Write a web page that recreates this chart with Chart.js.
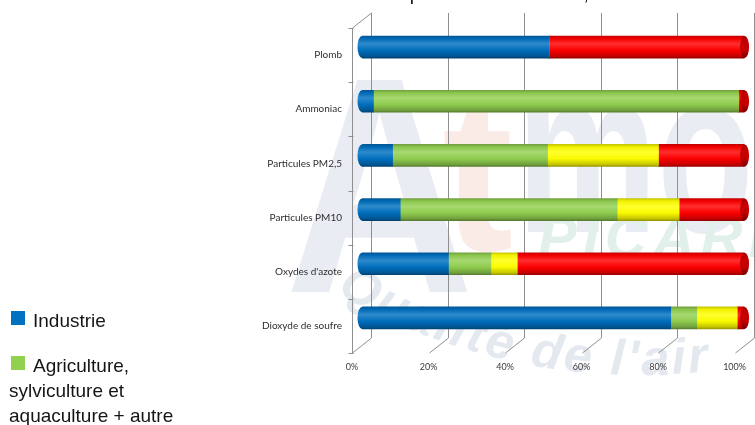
<!DOCTYPE html>
<html lang="fr">
<head>
<meta charset="utf-8">
<title>Émissions par secteur d'activité</title>
<script src="https://cdn.jsdelivr.net/npm/chart.js@4.4.1/dist/chart.umd.min.js"></script>
<style>
  html, body { margin: 0; padding: 0; background: #fff; overflow: hidden; width: 755px; height: 425px; }
  #wrap { position: relative; width: 755px; height: 425px; overflow: hidden; }
  #chart { position: absolute; left: 0; top: 0; }
  #title { position: absolute; left: 318px; top: -19px; white-space: nowrap;
           font-family: "Liberation Sans", Arial, sans-serif; font-size: 19px; line-height: 25px; color: #111; }
  #legend { position: absolute; left: 9px; top: 308px; width: 200px;
            font-family: "Liberation Sans", Arial, sans-serif; font-size: 19px; line-height: 25px; color: #151515; }
  #legend .item { margin-bottom: 20px; }
  #legend .sw { display: inline-block; width: 14px; height: 14px; margin-left: 2px; margin-right: 8px; vertical-align: 2px; }
</style>
</head>
<body>
<div id="wrap">
  <canvas id="chart" width="755" height="425"></canvas>
  <div id="title">Émissions par secteur d'activité, Picardie</div>
  <div id="legend"></div>
</div>
<script>
// Pollutants, top to bottom
const POLLUTANTS = ['Plomb', 'Ammoniac', 'Particules PM2,5', 'Particules PM10', "Oxydes d'azote", 'Dioxyde de soufre'];

// Emitting sectors (stack order, left to right)
const SECTORS = ['Industrie', 'Agriculture, sylviculture et aquaculture + autre', 'Résidentiel / tertiaire', 'Transport routier'];

// Share of each pollutant's emissions, in %
const INDUSTRIE    = [49.0,  3.0,  8.0, 10.0, 22.6, 80.7];
const AGRICULTURE  = [ 0.0, 95.4, 40.5, 56.7, 11.1,  6.8];
const RESIDENTIEL  = [ 0.0,  0.0, 29.0, 16.2,  6.9, 10.6];
const TRANSPORT    = [51.0,  1.6, 22.5, 17.1, 59.4,  1.9];

// Percentage axis
const X_TICKS = [0, 20, 40, 60, 80, 100];

const COLORS = ['#0070C0', '#92D050', '#FFFF00', '#FF0000'];
const SERIES = [INDUSTRIE, AGRICULTURE, RESIDENTIEL, TRANSPORT];

// 3-D look: back wall offset and depth of the cylinders
const WALL_DX = 19, WALL_DY = -15;
const BAR_DX = 10, BAR_DY = -8;
const BAR_H = 22;

function mix(hex, target, t) {
  const n = parseInt(hex.slice(1), 16);
  const c = [(n >> 16) & 255, (n >> 8) & 255, n & 255];
  const r = c.map((v, i) => Math.round(v + (target[i] - v) * t));
  return `rgb(${r[0]},${r[1]},${r[2]})`;
}
const dark = (h, t) => mix(h, [0, 0, 0], t);
const light = (h, t) => mix(h, [255, 255, 255], t);

function cylGradient(ctx, hex, yc, h, capShade) {
  if (!isFinite(yc)) return hex;
  const g = ctx.createLinearGradient(0, yc - h / 2, 0, yc + h / 2);
  const s = capShade || 0;
  g.addColorStop(0.00, dark(hex, 0.22 + s));
  g.addColorStop(0.12, dark(hex, 0.05 + s));
  g.addColorStop(0.35, s ? dark(hex, s) : light(hex, 0.18));
  g.addColorStop(0.65, dark(hex, 0.02 + s));
  g.addColorStop(0.90, dark(hex, 0.22 + s));
  g.addColorStop(1.00, dark(hex, 0.40 + s));
  return g;
}

function barFill(k) {
  return (c) => {
    const ys = c.chart.scales.y;
    if (!ys || c.dataIndex === undefined) return COLORS[k];
    return cylGradient(c.chart.ctx, COLORS[k], ys.getPixelForValue(c.dataIndex), BAR_H);
  };
}

// Faint logo behind the plot
const watermark = {
  id: 'watermark',
  beforeDraw(chart) {
    const ctx = chart.ctx;
    ctx.save();
    ctx.fillStyle = '#fff';
    ctx.fillRect(0, 0, chart.width, chart.height);

    ctx.textBaseline = 'alphabetic';
    ctx.fillStyle = 'rgb(233,237,243)';
    ctx.save(); ctx.translate(285, 292); ctx.scale(0.85, 1);
    ctx.font = 'bold 308px "Liberation Sans", Arial, sans-serif';
    ctx.fillText('A', 0, 0); ctx.restore();

    ctx.fillStyle = 'rgb(251,235,231)';
    ctx.save(); ctx.translate(442, 250); ctx.scale(0.95, 1);
    ctx.font = 'bold 225px "Liberation Sans", Arial, sans-serif';
    ctx.fillText('t', 0, 0); ctx.restore();

    ctx.fillStyle = 'rgb(233,237,243)';
    ctx.save(); ctx.translate(517, 232); ctx.scale(0.68, 1);
    ctx.font = 'bold 232px "Liberation Sans", Arial, sans-serif';
    ctx.fillText('mo', 0, 0); ctx.restore();

    ctx.fillStyle = 'rgb(226,240,236)';
    ctx.font = 'italic bold 58px "Liberation Sans", Arial, sans-serif';
    ctx.letterSpacing = '6px';
    ctx.fillText('PICARDIE', 538, 257);
    ctx.letterSpacing = '0px';

    // "Qualité de l'air" set along an arc
    const txt = "Qualité de l'air";
    const cx = 640, cy = -225, R = 600;
    ctx.fillStyle = 'rgb(228,233,240)';
    ctx.font = 'italic bold 50px "Liberation Sans", Arial, sans-serif';
    let theta = Math.acos((336 - cx) / R);
    for (const ch of txt) {
      const w = ctx.measureText(ch).width + 3;
      const px = cx + R * Math.cos(theta), py = cy + R * Math.sin(theta);
      ctx.save();
      ctx.translate(px, py);
      ctx.rotate(theta - Math.PI / 2);
      ctx.fillText(ch, 0, 0);
      ctx.restore();
      theta -= w / R;
    }
    ctx.restore();
  }
};

// Back wall gridlines, floor lines and left axis of the 3-D frame
const frame = {
  id: 'frame',
  beforeDatasetsDraw(chart) {
    const ctx = chart.ctx, xs = chart.scales.x;
    const { top, bottom, left } = chart.chartArea;
    ctx.save();
    ctx.strokeStyle = '#8f8f8f';
    ctx.lineWidth = 1;
    ctx.beginPath();
    X_TICKS.forEach(v => {
      const xf = Math.round(xs.getPixelForValue(v)) + 0.5;
      const xb = xf + WALL_DX;
      ctx.moveTo(xb, top + WALL_DY);
      ctx.lineTo(xb, bottom + WALL_DY);
      ctx.moveTo(xb, bottom + WALL_DY);
      ctx.lineTo(xf, bottom);
    });
    const lx = Math.round(left) + 0.5;
    ctx.moveTo(lx, top);
    ctx.lineTo(lx, bottom);
    ctx.moveTo(lx, top);
    ctx.lineTo(lx + WALL_DX, top + WALL_DY);
    const n = POLLUTANTS.length;
    for (let i = 0; i <= n; i++) {
      const y = Math.round(top + i * (bottom - top) / n) + 0.5;
      ctx.moveTo(lx - 4, y);
      ctx.lineTo(lx + 1, y);
    }
    ctx.stroke();
    ctx.restore();

    // bars sit halfway into the depth of the plot
    ctx.save();
    ctx.translate(BAR_DX, BAR_DY);
  },
  afterDatasetsDraw(chart) {
    const ctx = chart.ctx;
    const metas = SERIES.map((_, k) => chart.getDatasetMeta(k));
    POLLUTANTS.forEach((_, i) => {
      let first = -1, last = -1;
      SERIES.forEach((s, k) => { if (s[i] > 0) { if (first < 0) first = k; last = k; } });
      if (first < 0) return;
      const a = metas[first].data[i].getProps(['x', 'y', 'base', 'height'], true);
      const b = metas[last].data[i].getProps(['x', 'y', 'base', 'height'], true);
      const ry = BAR_H / 2, rx = 4.5;
      // rounded start of the cylinder
      ctx.beginPath();
      ctx.ellipse(a.base, a.y, rx, ry, 0, Math.PI / 2, Math.PI * 1.5);
      ctx.closePath();
      ctx.fillStyle = cylGradient(ctx, COLORS[first], a.y, BAR_H);
      ctx.fill();
      // visible end face
      ctx.beginPath();
      ctx.ellipse(b.x, b.y, rx, ry, 0, 0, Math.PI * 2);
      ctx.fillStyle = cylGradient(ctx, COLORS[last], b.y, BAR_H, 0.22);
      ctx.fill();
    });
    ctx.restore();
  }
};

const chart = new Chart(document.getElementById('chart'), {
  type: 'bar',
  data: {
    labels: POLLUTANTS,
    datasets: SECTORS.map((name, k) => ({
      label: name,
      data: SERIES[k],
      backgroundColor: barFill(k),
      borderWidth: 0,
      barThickness: BAR_H
    }))
  },
  options: {
    indexAxis: 'y',
    responsive: false,
    animation: false,
    events: [],
    layout: { padding: { top: 28, right: 16, left: 0, bottom: 0 } },
    plugins: { legend: { display: false }, tooltip: { enabled: false } },
    scales: {
      x: {
        stacked: true, min: 0, max: 100,
        afterBuildTicks(s) { s.ticks = X_TICKS.map(v => ({ value: v })); },
        ticks: { callback: v => v + '%', font: { family: 'Lato', size: 9 }, color: '#3a3a3a', padding: 9, maxRotation: 0 },
        grid: { display: false, drawTicks: false },
        border: { display: false },
        afterFit(s) { s.height = 72; }
      },
      y: {
        stacked: true,
        ticks: { font: { family: 'Lato', size: 10 }, color: '#2e2e2e', padding: 10 },
        grid: { display: false, drawTicks: false },
        border: { display: false },
        afterFit(s) { s.width = 352; }
      }
    }
  },
  plugins: [watermark, frame]
});

// Legend built from the datasets
const legend = document.getElementById('legend');
chart.data.datasets.forEach((ds, k) => {
  const item = document.createElement('div');
  item.className = 'item';
  const sw = document.createElement('span');
  sw.className = 'sw';
  sw.style.background = COLORS[k];
  item.appendChild(sw);
  item.appendChild(document.createTextNode(ds.label));
  legend.appendChild(item);
});
</script>
</body>
</html>
